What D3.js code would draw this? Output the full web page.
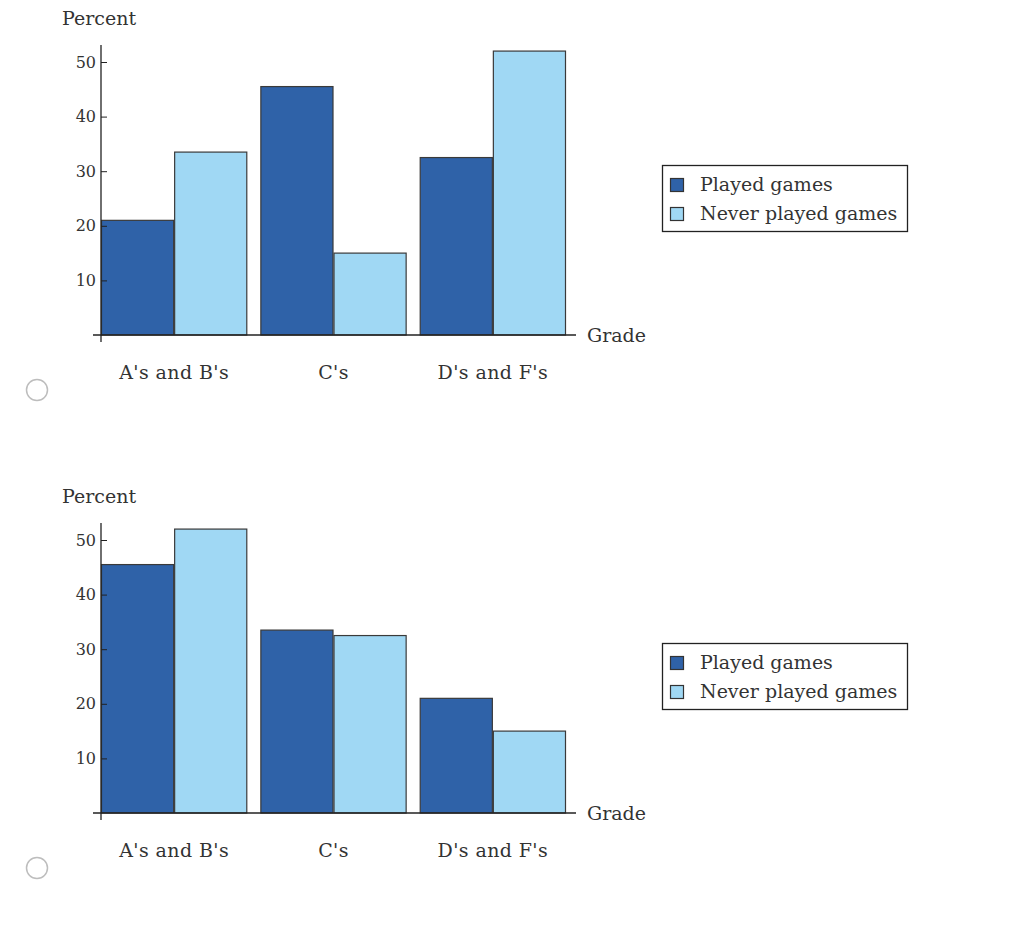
<!DOCTYPE html>
<html><head><meta charset="utf-8">
<script src="https://cdn.jsdelivr.net/npm/d3@7"></script>
<style>body{margin:0;background:#fff}svg{display:block}</style>
</head><body>
<svg id="c" width="1024" height="928"></svg>
<script>
const categories = ["A's and B's", "C's", "D's and F's"];
const seriesNames = ["Played games", "Never played games"];
const chart1Played = [21, 45.5, 32.5];
const chart1Never = [33.5, 15, 52];
const chart2Played = [45.5, 33.5, 21];
const chart2Never = [52, 32.5, 15];
const yTicks = [10, 20, 30, 40, 50];
const colors = ["#2f62a8", "#a0d8f4"];

const svg = d3.select("#c");
const font = "'DejaVu Serif', serif";

function drawChart(offsetY, played, never, radioY) {
  const g = svg.append("g").attr("transform", `translate(0,${offsetY})`);
  const y = d3.scaleLinear().domain([0, 50]).range([335, 62]);
  const x0 = d3.scaleBand().domain(categories).range([101, 566]).paddingInner(0.082).paddingOuter(0).align(0);
  const x1 = d3.scaleBand().domain(seriesNames).range([0, x0.bandwidth()]).padding(0);

  const data = categories.map((c, i) => ({cat: c, vals: [played[i], never[i]]}));
  const groups = g.selectAll("g.grp").data(data).join("g")
    .attr("transform", d => `translate(${x0(d.cat)},0)`);
  groups.selectAll("rect").data(d => d.vals.map((v, j) => ({v, s: seriesNames[j], j})))
    .join("rect")
    .attr("x", d => x1(d.s) + 0.5)
    .attr("y", d => y(d.v))
    .attr("width", x1.bandwidth() - 1)
    .attr("height", d => y(0) - y(d.v))
    .attr("fill", d => colors[d.j])
    .attr("stroke", "#3a3a3a")
    .attr("stroke-width", 1.2);

  // y axis
  const ya = g.append("g").attr("transform", "translate(101,0)")
    .call(d3.axisRight(y).tickValues(yTicks).tickSize(6).tickFormat(d3.format("d")));
  ya.select(".domain").remove();
  ya.selectAll("line").attr("stroke", "#222");
  ya.selectAll("text").attr("x", -5).attr("text-anchor", "end")
    .attr("font-family", font).attr("font-size", 16).attr("fill", "#333");
  g.append("line").attr("x1", 101).attr("x2", 101).attr("y1", 45).attr("y2", 342)
    .attr("stroke", "#222").attr("stroke-width", 1.3);
  // x axis
  g.append("line").attr("x1", 93).attr("x2", 576).attr("y1", y(0)).attr("y2", y(0))
    .attr("stroke", "#222").attr("stroke-width", 1.5);
  g.selectAll("text.cat").data(categories).join("text").attr("class", "cat")
    .attr("x", d => x0(d) + x0.bandwidth() / 2).attr("y", 379)
    .attr("text-anchor", "middle").attr("font-family", font).attr("font-size", 19)
    .attr("letter-spacing", 0.4)
    .attr("fill", "#333").text(d => d);
  g.append("text").attr("x", 587).attr("y", 342).attr("font-family", font)
    .attr("font-size", 19).attr("fill", "#333").text("Grade");
  g.append("text").attr("x", 62).attr("y", 25).attr("font-family", font)
    .attr("font-size", 19).attr("fill", "#333").text("Percent");

  // legend
  const lg = g.append("g");
  lg.append("rect").attr("x", 662.5).attr("y", 165.5).attr("width", 245).attr("height", 66)
    .attr("fill", "#fff").attr("stroke", "#222").attr("stroke-width", 1.3);
  seriesNames.forEach((s, i) => {
    lg.append("rect").attr("x", 670.5).attr("y", 178.5 + i * 29).attr("width", 13).attr("height", 13)
      .attr("fill", colors[i]).attr("stroke", "#333").attr("stroke-width", 1.2);
    lg.append("text").attr("x", 700).attr("y", 191 + i * 29).attr("font-family", font)
      .attr("font-size", 19).attr("fill", "#333").text(s);
  });

  svg.append("circle").attr("cx", 37).attr("cy", radioY).attr("r", 10.5)
    .attr("fill", "#fff").attr("stroke", "#bdbdbd").attr("stroke-width", 1.5);
}

drawChart(0, chart1Played, chart1Never, 390);
drawChart(478, chart2Played, chart2Never, 868);
</script>
</body></html>
